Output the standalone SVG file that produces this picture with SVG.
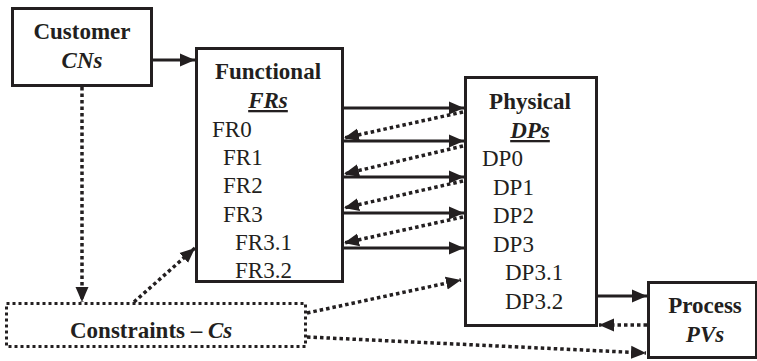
<svg xmlns="http://www.w3.org/2000/svg" width="757" height="361" viewBox="0 0 757 361">
<style>
.box{fill:#fff;stroke:#231f20;stroke-width:3}
.dbox{fill:#fff;stroke:#231f20;stroke-width:3;stroke-dasharray:3 3}
text{font-family:'Liberation Serif','Tinos','DejaVu Serif','Times New Roman',serif;font-size:23px;fill:#231f20}
.b{font-weight:bold}
.i{font-style:italic}
.c{text-anchor:middle}
.u{text-decoration:underline}
.sl{stroke:#231f20;stroke-width:3;fill:none}
.dl{stroke:#231f20;stroke-width:3.5;fill:none;stroke-dasharray:3.5 3}
</style>
<defs>
<marker id="ah" markerUnits="userSpaceOnUse" markerWidth="16" markerHeight="16" viewBox="0 0 16 16" refX="15" refY="8" orient="auto">
<path d="M0,1.5 L15,8 L0,14.5 Z" fill="#231f20"/>
</marker>
</defs>
<g id="connectors">
<line class="sl" x1="152" y1="60" x2="195" y2="60" marker-end="url(#ah)"/>
<line class="sl" x1="343" y1="108" x2="464" y2="108" marker-end="url(#ah)"/>
<line class="sl" x1="343" y1="141" x2="464" y2="141" marker-end="url(#ah)"/>
<line class="sl" x1="343" y1="177" x2="464" y2="177" marker-end="url(#ah)"/>
<line class="sl" x1="343" y1="213" x2="464" y2="213" marker-end="url(#ah)"/>
<line class="sl" x1="343" y1="248" x2="464" y2="248" marker-end="url(#ah)"/>
<line class="dl" x1="463" y1="112" x2="344" y2="138" marker-end="url(#ah)"/>
<line class="dl" x1="463" y1="146" x2="344" y2="174" marker-end="url(#ah)"/>
<line class="dl" x1="463" y1="181" x2="344" y2="208" marker-end="url(#ah)"/>
<line class="dl" x1="463" y1="217" x2="344" y2="243" marker-end="url(#ah)"/>
<line class="dl" x1="82" y1="87" x2="82" y2="302" marker-end="url(#ah)"/>
<line class="dl" x1="134" y1="302" x2="195" y2="248" marker-end="url(#ah)"/>
<line class="dl" x1="307" y1="313" x2="461" y2="280" marker-end="url(#ah)"/>
<line class="dl" x1="307" y1="337" x2="646" y2="353" marker-end="url(#ah)"/>
<line class="sl" x1="598" y1="296" x2="647" y2="296" marker-end="url(#ah)"/>
<line class="dl" x1="647" y1="325" x2="599" y2="325" marker-end="url(#ah)"/>
</g>
<g id="customer">
<rect class="box" x="12.5" y="8.5" width="139" height="77"/>
<text class="b c" x="82" y="39">Customer</text>
<text class="b i c" x="82" y="68">CNs</text>
</g>
<g id="functional">
<rect class="box" x="196.5" y="48.5" width="146" height="233"/>
<text class="b c" x="268" y="79">Functional</text>
<text class="b i c u" x="268" y="108">FRs</text>
<text x="212" y="137">FR0</text>
<text x="223" y="165">FR1</text>
<text x="223" y="193">FR2</text>
<text x="223" y="222">FR3</text>
<text x="235" y="250">FR3.1</text>
<text x="235" y="278">FR3.2</text>
</g>
<g id="physical">
<rect class="box" x="465.5" y="77.5" width="131" height="248"/>
<text class="b c" x="530" y="109">Physical</text>
<text class="b i c u" x="530" y="138">DPs</text>
<text x="482" y="166">DP0</text>
<text x="493" y="195">DP1</text>
<text x="493" y="223">DP2</text>
<text x="493" y="252">DP3</text>
<text x="505" y="280">DP3.1</text>
<text x="505" y="309">DP3.2</text>
</g>
<g id="process">
<rect class="box" x="648.5" y="282.5" width="108" height="75"/>
<text class="b c" x="705" y="313">Process</text>
<text class="b i c" x="705" y="342">PVs</text>
</g>
<g id="constraints">
<rect class="dbox" x="6.5" y="303.5" width="299" height="43"/>
<text class="b" x="70" y="338">Constraints –  <tspan class="i">Cs</tspan></text>
</g>
</svg>
